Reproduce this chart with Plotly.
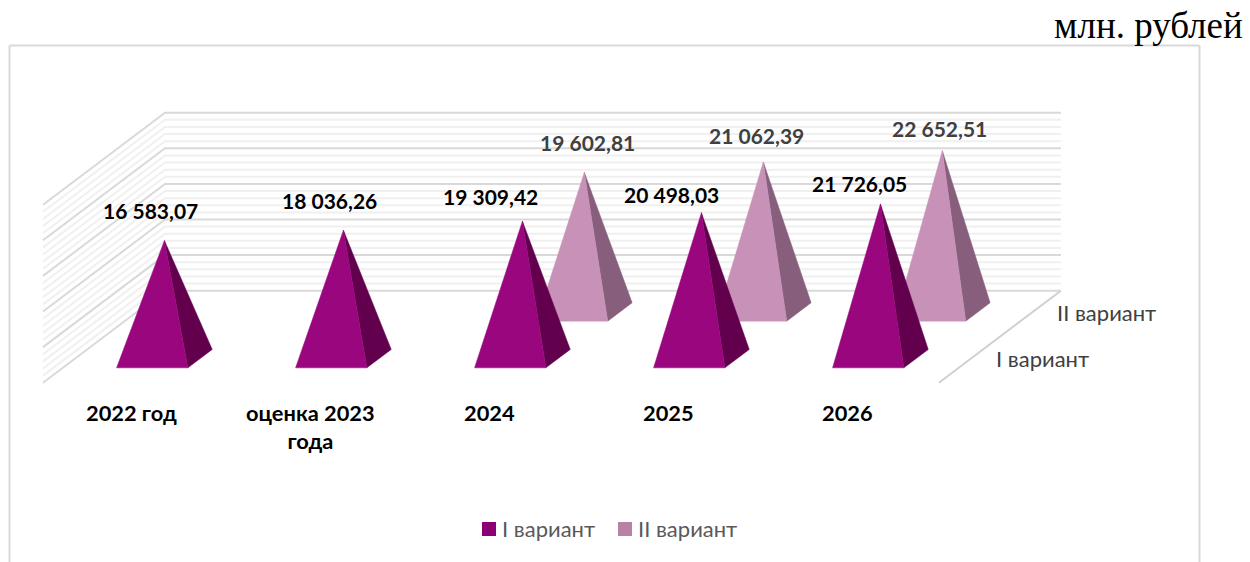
import plotly.graph_objects as go

categories = ["2022 год", "оценка 2023<br>года", "2024", "2025", "2026"]
series_names = ["I вариант", "II вариант"]
variant_1 = [16583.07, 18036.26, 19309.42, 20498.03, 21726.05]
variant_2 = [None, None, 19602.81, 21062.39, 22652.51]
grid_values = list(range(0, 26000, 1000))

W, H = 1250, 562
X0_PX, Y0_PX = 43.0, 382.7      # front-left floor corner
CAT_PX = 179.0                  # one category
PX_PER_VALUE = 0.00712
DEPTH_X = 122 / CAT_PX          # depth vector in category units
DEPTH_Y = 92 / PX_PER_VALUE     # depth vector in value units
N = len(categories)
WALL_END = N + 0.005
BASE_HALF = 0.199
DEPTH_HALF = 0.1
DEPTH_CENTER = [0.2616, 0.769]
FACE = [("#9A067E", "#62004E"), ("#C892B8", "#875F7C")]
LEGEND_COL = ["#8B0072", "#B981A6"]
LABEL_COL = ["#000000", "#404040"]
LABEL_OFF = [
    [(-13.5, -30), (-14, -30), (-32, -25), (-30, -18), (-20.5, -20)],
    [None, None, (3, -30), (-7, -26), (-3, -22)],
]
LEGEND_SWATCH_PX = [(482, 496), (618, 632)]
LEGEND_TEXT_PX = [502, 638]
LEGEND_Y_PX = 529


def P(cat, depth, value):
    """Oblique projection of (category, depth, value) onto the 2D axes."""
    return cat + depth * DEPTH_X, value + depth * DEPTH_Y


def fmt(v):
    return f"{v:,.2f}".replace(",", " ").replace(".", ",")


fig = go.Figure()


def line(pts, color, width):
    xs, ys = zip(*pts)
    fig.add_trace(go.Scatter(x=list(xs), y=list(ys), mode="lines", showlegend=False,
                             hoverinfo="skip", line=dict(color=color, width=width)))


# walls: minor lines first, major lines on top
for major in (False, True):
    for g in grid_values:
        if (g % 5000 == 0) != major:
            continue
        col, w = ("#D9D9D9", 2) if major else ("#F0F0F0", 2)
        line([P(0, 0, g), P(0, 1, g), P(WALL_END, 1, g)], col, w)
# right floor edge
line([P(WALL_END, 1, 0), P(WALL_END, 0, 0)], "#D0D0D0", 2)

# pyramids, back series first
annotations = []
for s in (1, 0):
    vals = variant_1 if s == 0 else variant_2
    front, side = FACE[s]
    dc = DEPTH_CENTER[s]
    for i, v in enumerate(vals):
        if v is None:
            continue
        c = i + 0.5
        fl = P(c - BASE_HALF, dc - DEPTH_HALF, 0)
        fr = P(c + BASE_HALF, dc - DEPTH_HALF, 0)
        br = P(c + BASE_HALF, dc + DEPTH_HALF, 0)
        apex = P(c, dc, v)
        for pts, col in (([fr, br, apex], side), ([fl, fr, apex], front)):
            xs, ys = zip(*(pts + [pts[0]]))
            fig.add_trace(go.Scatter(x=list(xs), y=list(ys), mode="lines", fill="toself",
                                     fillcolor=col, line=dict(color=col, width=0.5),
                                     showlegend=False, hoverinfo="skip"))
        dx, dy = LABEL_OFF[s][i]
        annotations.append(dict(x=apex[0], y=apex[1], text=fmt(v), showarrow=False,
                                xshift=dx, yshift=-dy,
                                font=dict(family="Lato", size=21, color=LABEL_COL[s], weight=700)))

# category labels below the floor
cat_y = -14.3 / PX_PER_VALUE
for i, cat in enumerate(categories):
    x, y = P(i + 0.5, 0, cat_y)
    annotations.append(dict(x=x - 0.005, y=y, text=cat, showarrow=False, yanchor="top", align="center",
                            font=dict(family="Lato", size=21.8, color="#000000", weight=700)))

# depth axis labels
for s, name in enumerate(series_names):
    x, y = P(WALL_END, DEPTH_CENTER[s], 0)
    annotations.append(dict(x=x, y=y, text=name, showarrow=False, xanchor="left",
                            xshift=[23, 22][s], yshift=[0, -1][s],
                            font=dict(family="Lato", size=22, color="#404040")))

# legend key
shapes = []
for s, name in enumerate(series_names):
    a, b = LEGEND_SWATCH_PX[s]
    shapes.append(dict(type="rect", xref="paper", yref="paper", x0=a / W, x1=b / W,
                       y0=1 - (LEGEND_Y_PX + 7) / H, y1=1 - (LEGEND_Y_PX - 7) / H,
                       fillcolor=LEGEND_COL[s], line=dict(width=0)))
    annotations.append(dict(xref="paper", yref="paper", x=LEGEND_TEXT_PX[s] / W, y=1 - LEGEND_Y_PX / H,
                            text=name, showarrow=False, xanchor="left", yanchor="middle", xshift=-2,
                            yshift=1, font=dict(family="Lato", size=22, color="#595959")))

annotations.append(dict(xref="paper", yref="paper", x=1243 / W, y=1 - 26 / H, text="млн. рублей",
                        showarrow=False, xanchor="right", yanchor="middle", xshift=2,
                        font=dict(family="Liberation Serif", size=37, color="#000000")))

frame = dict(type="line", xref="paper", yref="paper", line=dict(color="#D9D9D9", width=2))
L, R, T = 9.5 / W, 1199.5 / W, 1 - 45.5 / H
shapes += [dict(frame, x0=L, x1=R, y0=T, y1=T),
           dict(frame, x0=L, x1=L, y0=T, y1=0),
           dict(frame, x0=R, x1=R, y0=T, y1=0)]

fig.update_layout(
    width=W, height=H, margin=dict(l=0, r=0, t=0, b=0), autosize=False,
    paper_bgcolor="white", plot_bgcolor="white", showlegend=False,
    xaxis=dict(visible=False, range=[-X0_PX / CAT_PX, (W - X0_PX) / CAT_PX], fixedrange=True),
    yaxis=dict(visible=False, range=[-(H - Y0_PX) / PX_PER_VALUE, Y0_PX / PX_PER_VALUE], fixedrange=True),
    annotations=annotations, shapes=shapes, hovermode=False,
)
fig.write_html("out.html", config={"displayModeBar": False},
               post_script="document.body.style.margin='0';document.body.style.overflow='hidden';")
